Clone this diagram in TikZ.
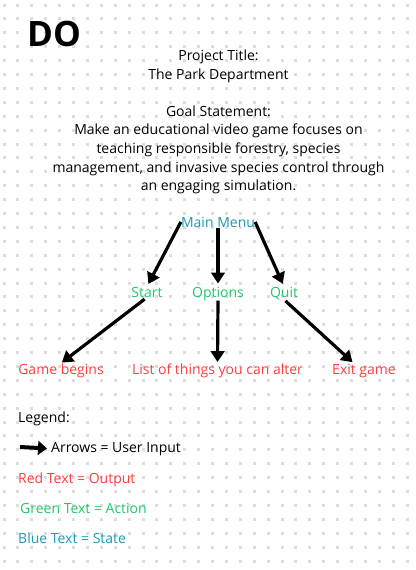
\documentclass[tikz,border=0pt]{standalone}
\usepackage{fontspec}
\setmainfont{Open Sans}
\usetikzlibrary{arrows.meta, positioning}
\definecolor{stateblue}{HTML}{1B9AB4}
\definecolor{actiongreen}{HTML}{1FC96B}
\definecolor{outputred}{HTML}{FF3D3D}
\definecolor{dotgrey}{HTML}{DCDCE4}
\tikzset{%
	txt/.style={inner sep=0pt, anchor=base, font=\fontsize{14}{18.7}\selectfont},
	state/.style={txt, text=stateblue},
	action/.style={txt, text=actiongreen},
	output/.style={txt, text=outputred},
	input/.style={-{Triangle[length=11pt,width=13.5pt]}, line width=3.2pt},
	dot/.style={fill=dotgrey}
}
\begin{document}
\begin{tikzpicture}[x=1pt, y=-1pt]
	\useasboundingbox (0,0) rectangle (415,570);
	\fill[white] (0,0) rectangle (415,570);
	% dotted paper
	\foreach \i in {0,...,29}
		\foreach \j in {0,...,40}
			\fill[dot] (2.5+13.9*\i, 3.5+13.9*\j) rectangle ++(3,3);

	\node[txt, anchor=base west, font=\fontsize{35}{40}\selectfont\bfseries] (do) at (27,46) {DO};
	\node[txt] (title) at (218.5,60) {Project Title:};
	\node[txt] (park) at (218.5,79) {The Park Department};
	\node[txt] (goal) at (218.5,116) {Goal Statement:};
	\node[txt] (g1) at (218.5,134) {Make an educational video game focuses on};
	\node[txt] (g2) at (218.5,153) {teaching responsible forestry, species};
	\node[txt] (g3) at (218.5,172) {management, and invasive species control through};
	\node[txt] (g4) at (218.5,190) {an engaging simulation.};

	\node[state] (menu) at (218,227) {Main Menu};
	\node[action] (start) at (147,297) {Start};
	\node[action] (options) at (218,297) {Options};
	\node[action] (quit) at (284,297) {Quit};
	\node[output] (game) at (61,374) {Game begins};
	\node[output] (list) at (217.5,374) {List of things you can alter};
	\node[output] (exit) at (364,374) {Exit game};

	\draw[input, shorten >=3pt] (menu.west) -- (start.north);
	\draw[input, shorten <=1pt, shorten >=3pt] (menu.south) -- (options.north);
	\draw[input, shorten >=3pt] (menu.east) -- (quit.north);
	\draw[input, shorten <=3pt, shorten >=1pt] (start.south) -- (game.north);
	\draw[input, shorten >=1pt] (options.south) -- (list.north);
	\draw[input, shorten <=2pt, shorten >=2pt] (quit.south) -- ([xshift=-10pt]exit.north);

	% legend
	\node[txt, anchor=base west] (legend) at (18,422) {Legend:};
	\node[txt, anchor=base west] (userin) at (51,452) {Arrows = User Input};
	\coordinate (arrowtail) at (20,447);
	\draw[-{Triangle[length=9pt,width=14pt]}, line width=4pt, shorten >=4pt] (arrowtail) -- (userin.west);
	\node[output, anchor=base west] (redkey) at (18,483) {Red Text = Output};
	\node[action, anchor=base west] (greenkey) at (20,513) {Green Text = Action};
	\node[state, anchor=base west] (bluekey) at (18,543) {Blue Text = State};
\end{tikzpicture}
\end{document}
